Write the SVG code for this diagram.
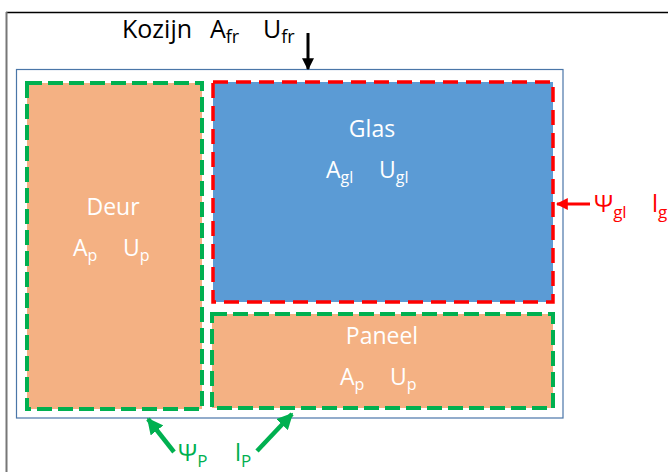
<svg xmlns="http://www.w3.org/2000/svg" width="668" height="472" viewBox="0 0 668 472">
<style>
text{font-family:"Open Sans","Liberation Sans",sans-serif}
.w{fill:#fff;font-size:23px}
.sub{font-size:16px}
.gd{stroke:#00b050;stroke-width:4;stroke-dasharray:15 6;fill:#f4b183}
.rd{stroke:#ff0000;stroke-width:3.5;stroke-dasharray:15 8;fill:#5b9bd5}
</style>
<defs>
<marker id="ab" viewBox="0 0 10 10" refX="9" refY="5" markerWidth="4" markerHeight="4" orient="auto"><path d="M0,0L10,5L0,10z" fill="#000"/></marker>
<marker id="ar" viewBox="0 0 10 10" refX="9" refY="5" markerWidth="4" markerHeight="4" orient="auto"><path d="M0,0L10,5L0,10z" fill="#ff0000"/></marker>
<marker id="ag" viewBox="0 0 10 10" refX="9" refY="5" markerWidth="3.6" markerHeight="3.6" orient="auto"><path d="M0,0L10,5L0,10z" fill="#00b050"/></marker>
</defs>
<rect width="668" height="472" fill="#fff"/>
<line x1="6" y1="12.5" x2="668" y2="12.5" stroke="#000" stroke-width="1.5"/>
<line x1="6.5" y1="12" x2="6.5" y2="472" stroke="#777" stroke-width="2"/>
<g id="kozijn">
<rect x="16.5" y="69.5" width="546.5" height="348.5" fill="#fff" stroke="#4a76a8" stroke-width="1.2"/>
<text x="122" y="38" font-size="25">Kozijn</text>
<text x="210" y="38" font-size="25">A<tspan font-size="18" dy="5">fr</tspan></text>
<text x="263" y="38" font-size="25">U<tspan font-size="18" dy="5">fr</tspan></text>
</g>
<g id="deur">
<rect class="gd" x="27" y="83" width="175" height="326"/>
<text class="w" x="113" y="215" text-anchor="middle">Deur</text>
<text class="w" x="73" y="256">A<tspan class="sub" dy="5">p</tspan></text>
<text class="w" x="123" y="256">U<tspan class="sub" dy="5">p</tspan></text>
</g>
<g id="glas">
<rect class="rd" x="213" y="82" width="340" height="220"/>
<text class="w" x="372" y="137" text-anchor="middle">Glas</text>
<text class="w" x="326" y="178">A<tspan class="sub" dy="5">gl</tspan></text>
<text class="w" x="379" y="178">U<tspan class="sub" dy="5">gl</tspan></text>
</g>
<g id="paneel">
<rect class="gd" x="212" y="314" width="341" height="94"/>
<text class="w" x="382" y="344" text-anchor="middle">Paneel</text>
<text class="w" x="340" y="385">A<tspan class="sub" dy="5">p</tspan></text>
<text class="w" x="390" y="385">U<tspan class="sub" dy="5">p</tspan></text>
</g>
<g id="connectors">
<line x1="308" y1="33" x2="308" y2="69" stroke="#000" stroke-width="3" marker-end="url(#ab)"/>
<line x1="590" y1="204" x2="557" y2="204" stroke="#ff0000" stroke-width="3" marker-end="url(#ar)"/>
<line x1="174" y1="452" x2="148" y2="419" stroke="#00b050" stroke-width="4.5" marker-end="url(#ag)"/>
<line x1="257" y1="451" x2="292" y2="414" stroke="#00b050" stroke-width="4.5" marker-end="url(#ag)"/>
</g>
<g id="labels">
<text x="594" y="212" font-size="24" fill="#ff0000">Ψ<tspan font-size="17" dy="6">gl</tspan></text>
<text x="652" y="212" font-size="24" fill="#ff0000">l<tspan font-size="17" dy="6">gl</tspan></text>
<text x="178" y="461" font-size="24" fill="#00b050">Ψ<tspan font-size="17" dy="6">P</tspan></text>
<text x="235" y="461" font-size="24" fill="#00b050">l<tspan font-size="17" dy="6">P</tspan></text>
</g>
</svg>
